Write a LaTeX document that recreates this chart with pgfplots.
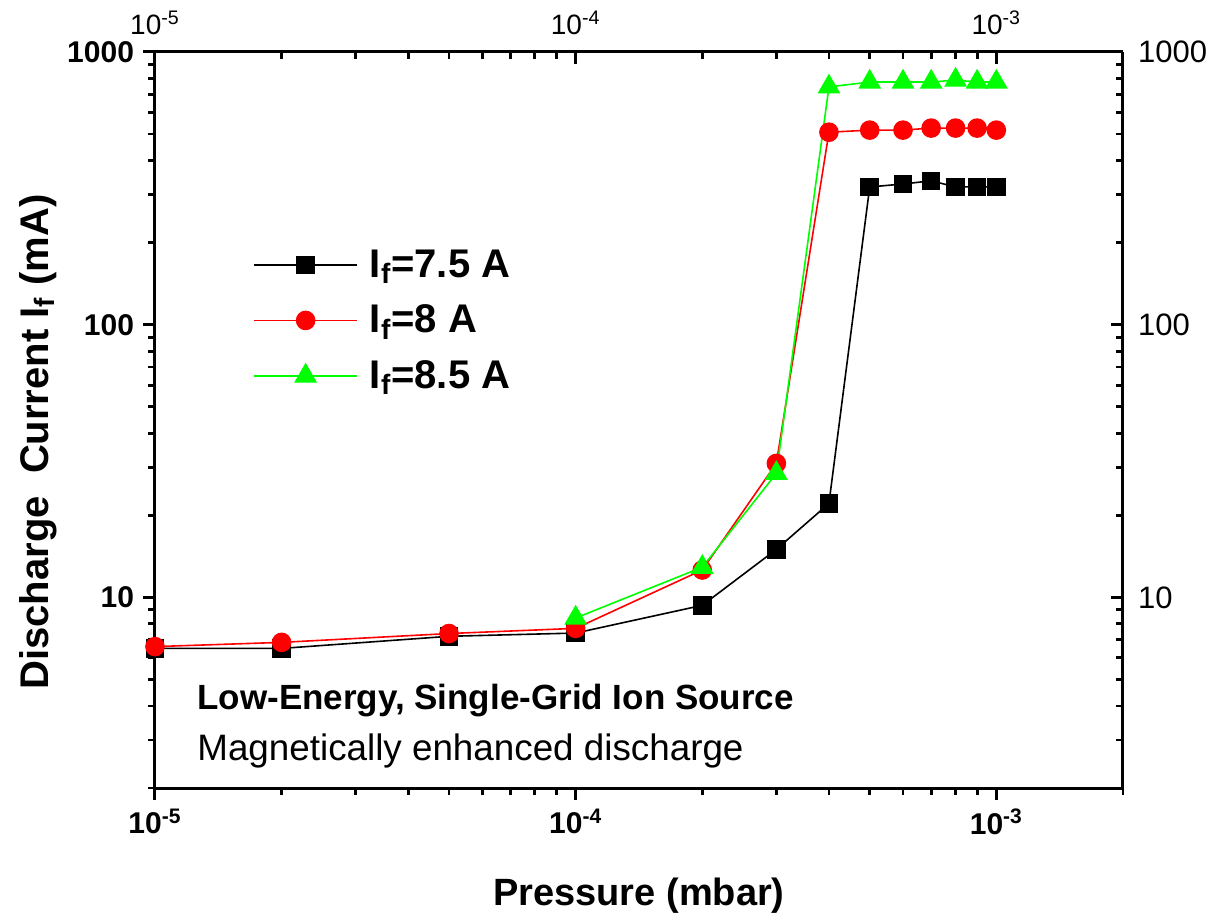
\documentclass[border=0pt]{standalone}
\usepackage{fontspec}
\setmainfont{Liberation Sans}
\usepackage{pgfplots}
\pgfplotsset{compat=1.18}

\definecolor{ogreen}{RGB}{0,255,0}
\definecolor{ored}{RGB}{255,0,0}

\pgfplotsset{every axis/.append style={
    scale only axis, width=484pt, height=368pt,
    xmin=1e-5, xmax=2e-3, ymin=2, ymax=1000,
    xtick={1e-5,1e-4,1e-3}, ytick={10,100,1000},
    minor xtick={2e-5,3e-5,4e-5,5e-5,6e-5,7e-5,8e-5,9e-5,2e-4,3e-4,4e-4,5e-4,6e-4,7e-4,8e-4,9e-4,2e-3},
    minor ytick={2,3,4,5,6,7,8,9,20,30,40,50,60,70,80,90,200,300,400,500,600,700,800,900},
    major tick length=6pt, minor tick length=3.5pt,
    axis line style={line width=1.5pt},
    major tick style={line width=1.5pt, black},
    minor tick style={line width=1.4pt, black},
  }
}

\begin{document}
\begin{tikzpicture}
% top and right frame, plain labels, ticks inward
\begin{loglogaxis}[
  axis x line*=top, axis y line*=right, tick align=inside,
  xticklabels={10\textsuperscript{-5},10\textsuperscript{-4},10\textsuperscript{-3}},
  yticklabels={10,100,1000},
  xticklabel style={font=\fontsize{14}{16}\selectfont, yshift=5pt},
  yticklabel style={font=\fontsize{15.5}{17}\selectfont, xshift=4pt},
]
\end{loglogaxis}

% data, bottom and left frame, bold labels, ticks outward
\begin{loglogaxis}[name=ax,
  axis x line*=bottom, axis y line*=left, tick align=outside,
  clip=false,
  xticklabels={\textbf{10\textsuperscript{-5}},\textbf{10\textsuperscript{-4}},\textbf{10\textsuperscript{-3}}},
  yticklabels={\textbf{10},\textbf{100},\textbf{1000}},
  xticklabel style={font=\fontsize{15}{17}\selectfont, yshift=-1pt},
  yticklabel style={font=\fontsize{15}{17}\selectfont, xshift=-1pt},
  xlabel={Pressure (mbar)},
  ylabel={Discharge\ \ Current I\textsubscript{f} (mA)},
  xlabel style={font=\fontsize{19}{22}\selectfont\bfseries, at={(axis description cs:0.5,-0.159)}, anchor=base},
  ylabel style={font=\fontsize{20}{24}\selectfont\bfseries, at={(axis description cs:-0.1105,0.47)}, anchor=base},
  legend style={draw=none, fill=none, at={(axis description cs:0.095,0.635)}, anchor=west,
    font=\fontsize{20}{24}\selectfont\bfseries, row sep=8.3pt,
    /tikz/every odd column/.style={column sep=4pt}},
  legend cell align=left,
  legend image code/.code={
    \draw[mark repeat=2,mark phase=2,#1] plot coordinates {(0pt,0pt) (25.75pt,0pt) (51.5pt,0pt)};
  },
]
\addplot[black, line width=0.8pt, mark=square*, mark size=4.25pt, mark options={solid}] coordinates {
  (1e-5,6.5) (2e-5,6.5) (5e-5,7.2) (1e-4,7.4) (2e-4,9.35) (3e-4,15.0) (4e-4,22.1)
  (5e-4,320) (6e-4,328) (7e-4,337) (8e-4,320) (9e-4,320) (1e-3,320)
};
\addlegendentry{I\textsubscript{f}=7.5 A}
\addplot[ored, line width=0.8pt, mark=*, mark size=4.5pt, mark options={solid}] coordinates {
  (1e-5,6.6) (2e-5,6.84) (5e-5,7.37) (1e-4,7.7) (2e-4,12.6) (3e-4,31) (4e-4,508)
  (5e-4,517) (6e-4,517) (7e-4,526) (8e-4,526) (9e-4,526) (1e-3,517)
};
\addlegendentry{I\textsubscript{f}=8 A}
\addplot[ogreen, line width=0.8pt, mark=triangle*, mark size=5.8pt, mark options={solid}] coordinates {
  (1e-4,8.4) (2e-4,12.9) (3e-4,28.5) (4e-4,745)
  (5e-4,776) (6e-4,776) (7e-4,776) (8e-4,789) (9e-4,776) (1e-3,776)
};
\addlegendentry{I\textsubscript{f}=8.5 A}

\node[anchor=base west, inner sep=0pt, font=\fontsize{17.5}{20}\selectfont\bfseries]
  at (axis description cs:0.0434,0.106) {Low-Energy, Single-Grid Ion Source};
\node[anchor=base west, inner sep=0pt, font=\fontsize{18.4}{20}\selectfont]
  at (axis description cs:0.0434,0.038) {Magnetically enhanced discharge};
\end{loglogaxis}

\path ([shift={(-77.5pt,-63.5pt)}]ax.south west) rectangle ([shift={(46pt,26pt)}]ax.north east);
\end{tikzpicture}
\end{document}
